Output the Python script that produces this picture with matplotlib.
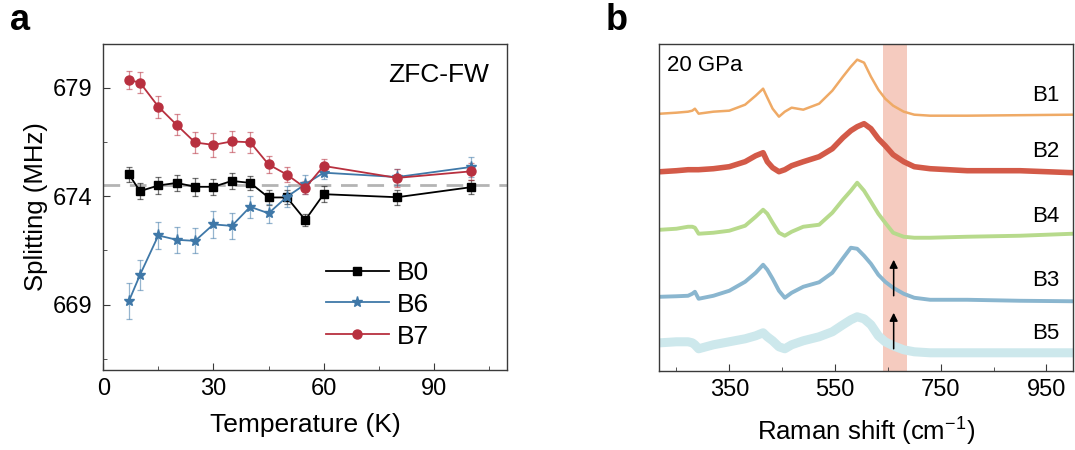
import matplotlib
matplotlib.use("Agg")
import matplotlib.pyplot as plt
import numpy as np

plt.rcParams['font.family'] = ['Liberation Sans', 'DejaVu Sans']
plt.rcParams['mathtext.fontset'] = 'custom'
plt.rcParams['mathtext.rm'] = 'Liberation Sans'

# ---------------- Panel a data ----------------
temperature = [7, 10, 15, 20, 25, 30, 35, 40, 45, 50, 55, 60, 80, 100]
b0 = [675.0, 674.23, 674.49, 674.61, 674.43, 674.43, 674.70, 674.61, 673.94, 673.94, 672.90, 674.09, 673.95, 674.41]
b0_err = [0.34, 0.36, 0.38, 0.37, 0.42, 0.36, 0.37, 0.34, 0.34, 0.32, 0.28, 0.37, 0.34, 0.32]
b6 = [669.17, 670.37, 672.19, 671.99, 671.94, 672.70, 672.63, 673.51, 673.21, 673.97, 674.55, 675.08, 674.88, 675.34]
b6_err = [0.84, 0.7, 0.62, 0.6, 0.58, 0.63, 0.6, 0.5, 0.44, 0.48, 0.43, 0.3, 0.35, 0.44]
b7 = [679.34, 679.23, 678.12, 677.28, 676.47, 676.36, 676.52, 676.48, 675.46, 674.99, 674.38, 675.39, 674.84, 675.14]
b7_err = [0.42, 0.48, 0.5, 0.48, 0.5, 0.55, 0.5, 0.49, 0.4, 0.34, 0.3, 0.34, 0.42, 0.38]
reference_splitting = 674.5
series_a = ['B0', 'B6', 'B7']

# ---------------- Panel b data ----------------
raman_shift = [220, 250, 272, 280, 285, 292, 320, 350, 380, 400, 414, 422, 432, 444, 455, 468,
               490, 520, 545, 565, 580, 592, 605, 618, 632, 645, 660, 680, 700, 730, 800, 900, 1000]
spec_b1 = [1, 2, 3, 4, 6, 1, 3, 4, 10, 19, 26, 17, 6, -2, 3, 7,
           5, 11, 24, 38, 48, 55, 52, 38, 25, 16, 9, 3, 0, -1, -1, -0.5, 0]
spec_b2 = [-1, 0, 1, 1, 1, 1, 2, 4, 9, 15, 18, 9, 3, -1, 1, 5,
           9, 14, 22, 33, 40, 44, 47, 42, 32, 25, 16, 9, 4, 2, 0, 0, -2]
spec_b4 = [6, 7, 9, 9, 8, 2, 3, 5, 10, 19, 26, 22, 13, 3, 0, 4,
           9, 11, 23, 36, 45, 53, 45, 34, 22, 13, 3, -1, -2, -2, -1, 0, 2]
spec_b3 = [3, 3.5, 4, 6, 8, 1, 4, 9, 18, 27, 35, 30, 21, 9, 2, 7,
           13, 17.5, 27, 41.5, 52, 51, 44, 36, 25, 18, 12, 6, 2, 0, 0, -1, -1.5]
spec_b5 = [10, 11, 11, 10, 8, 4, 8, 11, 14, 17, 20, 16, 12, 6, 4, 8,
           12, 16, 21, 28, 33, 36, 34, 28, 17, 11, 7, 3, 1, 0, 0, 0, 0]
spec_labels = ['B1', 'B2', 'B4', 'B3', 'B5']
spec_offsets = [256, 200, 135, 71, 18]
band_range = [641, 687]
arrow_shift = 661
pressure_label = '20 GPa'

# ---------------- Figure ----------------
fig = plt.figure(figsize=(10.75, 4.5), dpi=100)
spine_col = '#3a3a3a'

# Panel a
ax = fig.add_axes([0.096, 0.178, 0.376, 0.724])
styles = {
    'B0': dict(color='black', marker='s', ms=5.5),
    'B6': dict(color='#3f78a8', marker='*', ms=8),
    'B7': dict(color='#b8303f', marker='o', ms=6.5),
}
data_a = {'B0': (b0, b0_err), 'B6': (b6, b6_err), 'B7': (b7, b7_err)}
ax.axhline(reference_splitting, color='#b4b4b4', lw=2.0, ls=(0, (6, 3.5)), zorder=1)
for name in series_a:
    vals, err = data_a[name]
    st = styles[name]
    ax.errorbar(temperature, vals, yerr=err, fmt='none', ecolor=st['color'],
                elinewidth=0.9, capsize=2.5, capthick=0.9, alpha=0.55, zorder=2)
    ax.plot(temperature, vals, color=st['color'], marker=st['marker'], ms=st['ms'],
            lw=1.3, label=name, zorder=3)

ax.set_xlim(0, 110)
ax.set_ylim(666, 681)
ax.set_xticks([0, 30, 60, 90])
ax.set_xticks([15, 45, 75, 105], minor=True)
ax.set_yticks([669, 674, 679])
ax.set_yticks([666.5, 671.5, 676.5], minor=True)
ax.tick_params(which='both', direction='in', labelsize=17, color=spine_col)
ax.tick_params(axis='x', which='major', length=5, pad=6)
ax.tick_params(axis='x', which='minor', length=3)
ax.tick_params(axis='y', which='major', length=5, pad=8)
ax.tick_params(axis='y', which='minor', length=3)
for sp in ax.spines.values():
    sp.set_color(spine_col)
    sp.set_linewidth(1.0)
ax.set_xlabel('Temperature (K)', fontsize=19, labelpad=9)
ax.set_ylabel('Splitting (MHz)', fontsize=18.5, labelpad=3)
ax.text(0.955, 0.905, 'ZFC-FW', transform=ax.transAxes, ha='right', va='center', fontsize=19)
ax.legend(loc='upper left', bbox_to_anchor=(0.55, 0.335), frameon=False, fontsize=19,
          handlelength=2.4, handletextpad=0.3, labelspacing=0.3, borderpad=0,
          borderaxespad=0)

# Panel b
bx = fig.add_axes([0.613, 0.176, 0.385, 0.727])
bx.axvspan(band_range[0], band_range[1], color='#f5cbbf', lw=0, zorder=0)
spec_colors = ['#efaa66', '#d35a48', '#b7da8c', '#8ab6cf', '#cde8ec']
spec_lw = [1.8, 4.0, 2.8, 2.8, 6.5]
spectra = [spec_b1, spec_b2, spec_b4, spec_b3, spec_b5]
for lab, sp_, off, col, lw in zip(spec_labels, spectra, spec_offsets, spec_colors, spec_lw):
    bx.plot(raman_shift, np.array(sp_) + off, color=col, lw=lw, zorder=2,
            solid_joinstyle='round')
    bx.text(975, off + 19, lab, ha='right', va='center', fontsize=16)
for off in (spec_offsets[3], spec_offsets[4]):
    bx.annotate('', xy=(arrow_shift, off + 40), xytext=(arrow_shift, off + 4),
                arrowprops=dict(arrowstyle='-|>', color='black', lw=1.1,
                                mutation_scale=12, shrinkA=0, shrinkB=0), zorder=4)
bx.text(0.02, 0.933, pressure_label, transform=bx.transAxes, ha='left', va='center', fontsize=16)
bx.set_xlim(217, 1000)
bx.set_ylim(0, 327)
bx.set_xticks([350, 550, 750, 950])
bx.set_xticks([250, 450, 650, 850], minor=True)
bx.set_yticks([])
bx.tick_params(which='both', direction='in', labelsize=17, color=spine_col)
bx.tick_params(axis='x', which='major', length=5, pad=6)
bx.tick_params(axis='x', which='minor', length=3)
for sp in bx.spines.values():
    sp.set_color(spine_col)
    sp.set_linewidth(1.0)
bx.set_xlabel('Raman shift (cm$^{-1}$)', fontsize=18.5, labelpad=9)

fig.text(20 / 1075, 1 - 20 / 450, 'a', fontsize=26, fontweight='bold', ha='center', va='center')
fig.text(617 / 1075, 1 - 20 / 450, 'b', fontsize=26, fontweight='bold', ha='center', va='center')

fig.savefig('out.png', dpi=100)
